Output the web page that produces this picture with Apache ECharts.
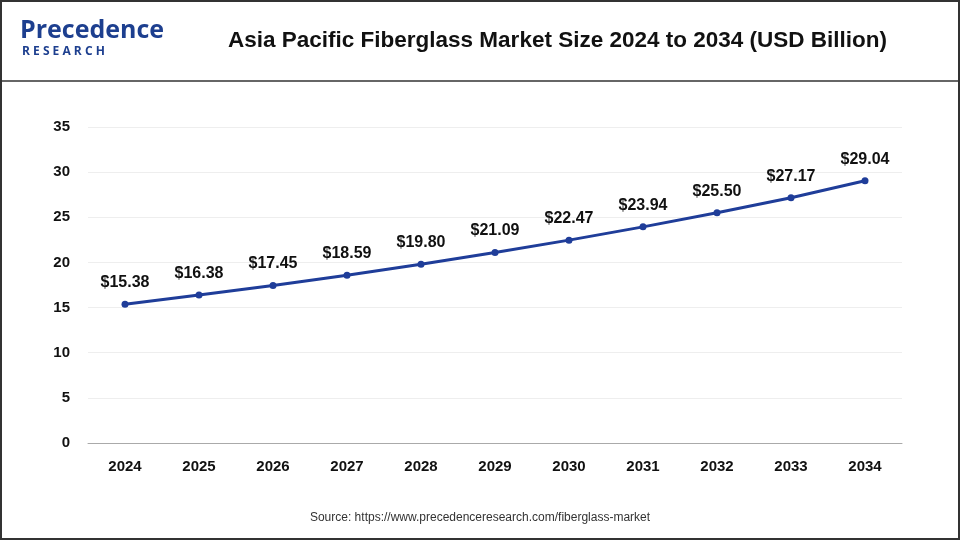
<!DOCTYPE html>
<html>
<head>
<meta charset="utf-8">
<script src="https://cdn.jsdelivr.net/npm/echarts@6/dist/echarts.min.js"></script>
<style>
  html, body { margin: 0; padding: 0; background: #fff; }
  #root { width: 960px; height: 540px; }
</style>
</head>
<body>
<div id="root"></div>
<script>
const years = ['2024', '2025', '2026', '2027', '2028', '2029', '2030', '2031', '2032', '2033', '2034']
const marketSize = [15.38, 16.38, 17.45, 18.59, 19.80, 21.09, 22.47, 23.94, 25.50, 27.17, 29.04]
const yTicks = [0, 5, 10, 15, 20, 25, 30, 35]

const chart = echarts.init(document.getElementById('root'))
chart.setOption({
  animation: false,
  graphic: [
    { type: 'rect', shape: { x: 1, y: 1, width: 958, height: 538 }, style: { fill: 'none', stroke: '#333', lineWidth: 2 } },
    { type: 'line', shape: { x1: 0, y1: 81, x2: 960, y2: 81 }, style: { stroke: '#333', lineWidth: 1.5 } },
    { type: 'text', left: 20, top: 18, style: { text: 'Precedence', font: 'bold 25px "Open Sans", sans-serif', fill: '#1d3f8f' } },
    { type: 'text', left: 22, top: 46, style: { text: 'R E S E A R C H', font: 'bold 12px "Open Sans", sans-serif', fill: '#1d3f8f' } },
    { type: 'text', left: 228, top: 29, style: { text: 'Asia Pacific Fiberglass Market Size 2024 to 2034 (USD Billion)', font: 'bold 22.5px "Liberation Sans", Arial, sans-serif', fill: '#111' } },
    { type: 'text', left: 'center', top: 512, style: { text: 'Source: https://www.precedenceresearch.com/fiberglass-market', font: '12px "Liberation Sans", Arial, sans-serif', fill: '#333' } }
  ],
  grid: { left: 88, right: 58, top: 127, bottom: 97 },
  xAxis: {
    type: 'category',
    data: years,
    axisLine: { lineStyle: { color: '#aaa' } },
    axisTick: { show: false },
    axisLabel: { color: '#111', fontWeight: 'bold', fontSize: 15, margin: 16, fontFamily: 'Liberation Sans, Arial' }
  },
  yAxis: {
    type: 'value',
    min: yTicks[0],
    max: yTicks[yTicks.length - 1],
    interval: 5,
    axisLine: { show: false },
    axisTick: { show: false },
    splitLine: { lineStyle: { color: '#eee' } },
    axisLabel: { color: '#111', fontWeight: 'bold', fontSize: 15, margin: 18, fontFamily: 'Liberation Sans, Arial' }
  },
  series: [{
    type: 'line',
    data: marketSize,
    symbol: 'circle',
    symbolSize: 7,
    lineStyle: { color: '#1f3d99', width: 3 },
    itemStyle: { color: '#1f3d99' },
    label: {
      show: true,
      position: 'top',
      distance: 10,
      color: '#111',
      fontWeight: 'bold',
      fontSize: 16,
      fontFamily: 'Liberation Sans, Arial',
      formatter: p => '$' + p.value.toFixed(2)
    }
  }]
})
</script>
</body>
</html>
